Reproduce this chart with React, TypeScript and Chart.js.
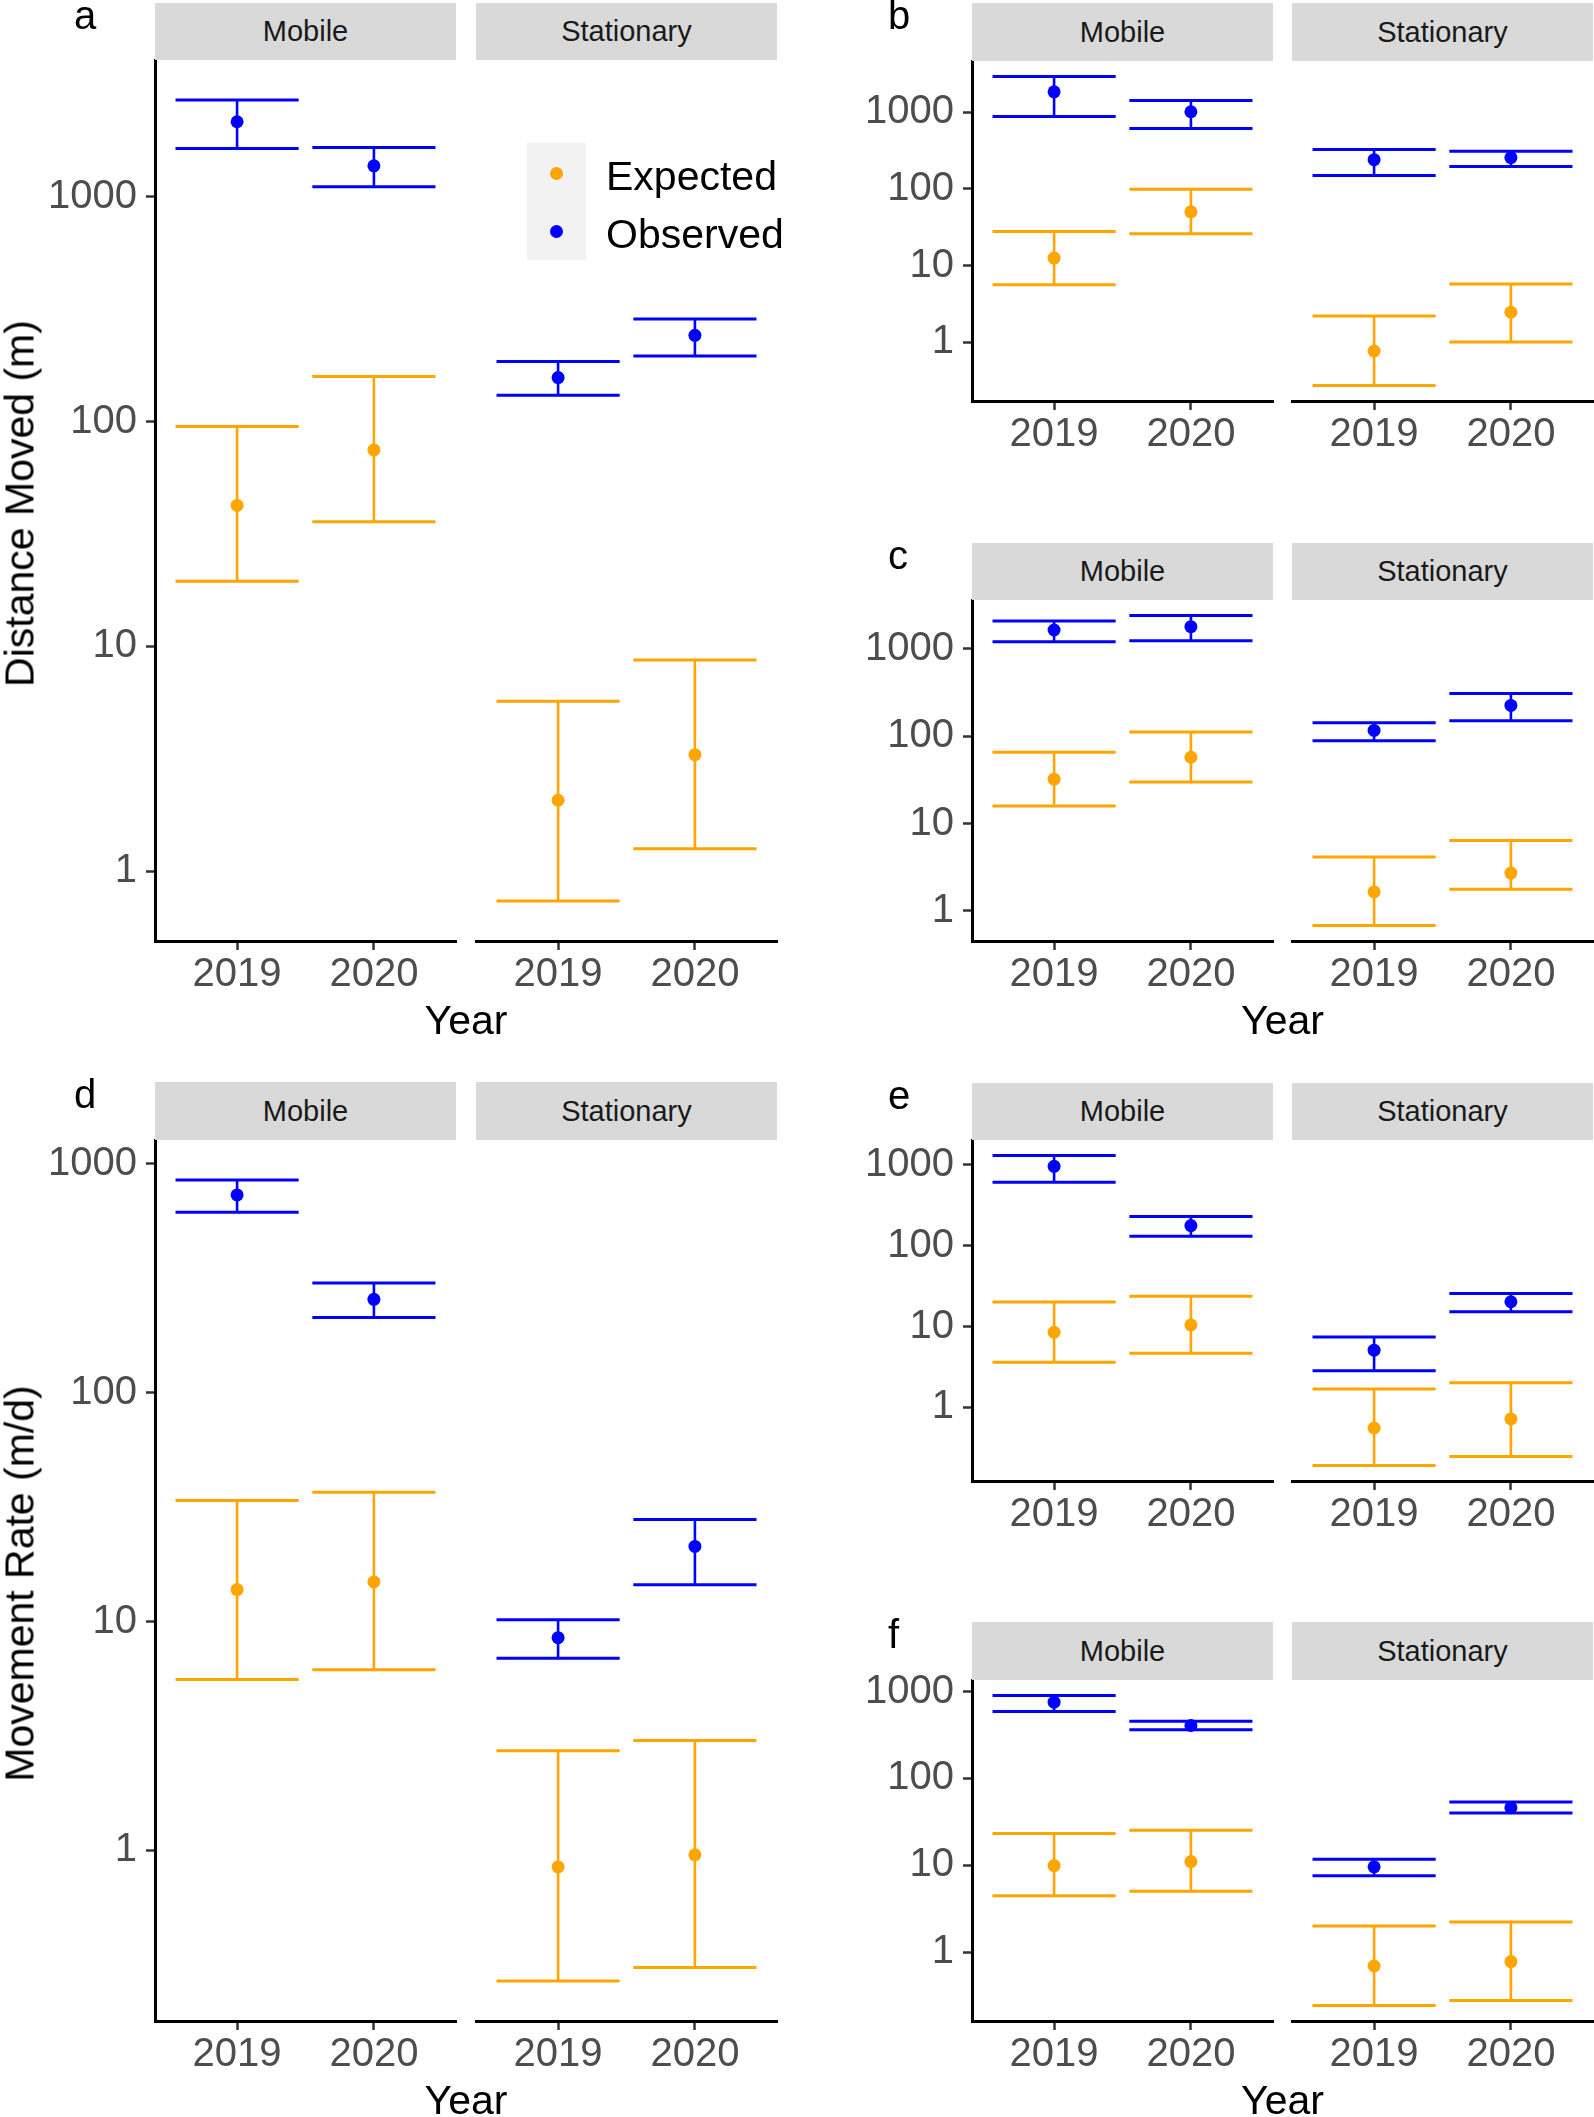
import React, { useEffect, useRef } from 'react';
import { Chart, registerables } from 'chart.js';

Chart.register(...registerables);

// ---------- DATA ----------
const years = ['2019', '2020'];
const facetNames = ['Mobile', 'Stationary'];
const seriesNames = ['Expected', 'Observed'];
const yTickValues = [1, 10, 100, 1000];

// Order in each array: Mobile 2019, Mobile 2020, Stationary 2019, Stationary 2020
// Panel a – Distance Moved (m)
const aExpMean = [42.4, 74.8, 2.07, 3.3];
const aExpLow = [19.5, 35.9, 0.738, 1.26];
const aExpHigh = [95, 158.5, 5.7, 8.7];
const aObsMean = [2155, 1373, 157, 242];
const aObsLow = [1640, 1108, 131, 196];
const aObsHigh = [2692, 1657, 185, 286];

// Panel b
const bExpMean = [12.5, 50.3, 0.764, 2.45];
const bExpLow = [5.59, 26.0, 0.27, 1.0];
const bExpHigh = [27.9, 99.3, 2.19, 5.72];
const bObsMean = [1857, 1020, 241, 257];
const bObsLow = [884, 617, 150, 196];
const bObsHigh = [2951, 1435, 328, 312];

// Panel c
const cExpMean = [32.1, 57.2, 1.65, 2.71];
const cExpLow = [15.9, 29.9, 0.682, 1.77];
const cExpHigh = [65.3, 111, 4.15, 6.41];
const cObsMean = [1631, 1782, 116, 224];
const cObsLow = [1195, 1227, 88.4, 150];
const cObsHigh = [2074, 2390, 141.6, 306];

// Panel d – Movement Rate (m/d)
const dExpMean = [13.8, 14.9, 0.847, 0.957];
const dExpLow = [5.58, 6.16, 0.269, 0.308];
const dExpHigh = [33.8, 36.7, 2.73, 3.02];
const dObsMean = [732, 256, 8.51, 21.3];
const dObsLow = [614, 213, 6.92, 14.5];
const dObsHigh = [850, 302, 10.2, 27.9];

// Panel e
const eExpMean = [8.51, 10.5, 0.556, 0.721];
const eExpLow = [3.61, 4.69, 0.191, 0.247];
const eExpHigh = [20.1, 23.7, 1.69, 2.02];
const eObsMean = [962, 178, 5.11, 20.3];
const eObsLow = [611, 131, 2.84, 15.3];
const eObsHigh = [1310, 231, 7.45, 25.6];

// Panel f
const fExpMean = [9.9, 11.0, 0.69, 0.775];
const fExpLow = [4.44, 5.02, 0.242, 0.276];
const fExpHigh = [23.1, 25.3, 1.99, 2.21];
const fObsMean = [754, 406, 9.57, 46.0];
const fObsLow = [589, 362, 7.54, 40.0];
const fObsHigh = [900, 456, 11.7, 53.4];

// ---------- STYLE / LAYOUT ----------
const FONT = '"Liberation Sans", Arial, Helvetica, sans-serif';
const SERIES_COLORS = ['#FFA500', '#0000FF'];
const TICK_COLOR = '#4D4D4D';
const STRIP_BG = '#D9D9D9';

const LEFT_COLS = [155, 476];
const RIGHT_COLS = [972, 1292];
const FACET_W = 301;

type Series = { mean: number[]; low: number[]; high: number[] };

const panels = [
  { id: 'a', cols: LEFT_COLS, plotTop: 60, plotBottom: 941, stripTop: 3, labelX: 74,
    exp: { mean: aExpMean, low: aExpLow, high: aExpHigh }, obs: { mean: aObsMean, low: aObsLow, high: aObsHigh },
    yTitle: 'Distance Moved (m)', xTitleBase: 1035, legend: true },
  { id: 'b', cols: RIGHT_COLS, plotTop: 61, plotBottom: 401, stripTop: 3, labelX: 888,
    exp: { mean: bExpMean, low: bExpLow, high: bExpHigh }, obs: { mean: bObsMean, low: bObsLow, high: bObsHigh } },
  { id: 'c', cols: RIGHT_COLS, plotTop: 600, plotBottom: 941, stripTop: 543, labelX: 888,
    exp: { mean: cExpMean, low: cExpLow, high: cExpHigh }, obs: { mean: cObsMean, low: cObsLow, high: cObsHigh },
    xTitleBase: 1035 },
  { id: 'd', cols: LEFT_COLS, plotTop: 1140, plotBottom: 2021, stripTop: 1082, labelX: 74,
    exp: { mean: dExpMean, low: dExpLow, high: dExpHigh }, obs: { mean: dObsMean, low: dObsLow, high: dObsHigh },
    yTitle: 'Movement Rate (m/d)', xTitleBase: 2115 },
  { id: 'e', cols: RIGHT_COLS, plotTop: 1140, plotBottom: 1481, stripTop: 1083, labelX: 888,
    exp: { mean: eExpMean, low: eExpLow, high: eExpHigh }, obs: { mean: eObsMean, low: eObsLow, high: eObsHigh } },
  { id: 'f', cols: RIGHT_COLS, plotTop: 1680, plotBottom: 2021, stripTop: 1622, labelX: 888,
    exp: { mean: fExpMean, low: fExpLow, high: fExpHigh }, obs: { mean: fObsMean, low: fObsLow, high: fObsHigh },
    xTitleBase: 2115 },
];

function yRange(exp: Series, obs: Series) {
  const all = [...exp.low, ...exp.high, ...obs.low, ...obs.high];
  const lo = Math.log10(Math.min(...all));
  const hi = Math.log10(Math.max(...all));
  const pad = (hi - lo) * 0.05;
  return { min: Math.pow(10, lo - pad), max: Math.pow(10, hi + pad) };
}

function slice(s: Series, f: number): Series {
  return { mean: s.mean.slice(f * 2, f * 2 + 2), low: s.low.slice(f * 2, f * 2 + 2), high: s.high.slice(f * 2, f * 2 + 2) };
}

function makeErrorBarPlugin(bars: { color: string; s: Series }[]) {
  return {
    id: 'errorBars',
    beforeDatasetsDraw(chart: any) {
      const { ctx } = chart;
      const x = chart.scales.x;
      const y = chart.scales.y;
      ctx.save();
      ctx.lineCap = 'butt';
      bars.forEach((b) => {
        ctx.strokeStyle = b.color;
        b.s.low.forEach((lo, i) => {
          const hi = b.s.high[i];
          const cx = x.getPixelForValue(i + 1);
          const x0 = x.getPixelForValue(i + 1 - 0.45);
          const x1 = x.getPixelForValue(i + 1 + 0.45);
          const yl = y.getPixelForValue(lo);
          const yh = y.getPixelForValue(hi);
          ctx.lineWidth = 2.6;
          ctx.beginPath();
          ctx.moveTo(cx, yl);
          ctx.lineTo(cx, yh);
          ctx.stroke();
          ctx.lineWidth = 3;
          ctx.beginPath();
          ctx.moveTo(x0, yl);
          ctx.lineTo(x1, yl);
          ctx.moveTo(x0, yh);
          ctx.lineTo(x1, yh);
          ctx.stroke();
        });
      });
      ctx.restore();
    },
  };
}

type FacetProps = {
  left: number; top: number; width: number; height: number;
  showY: boolean; yMin: number; yMax: number; exp: Series; obs: Series;
};

function Facet({ left, top, width, height, showY, yMin, yMax, exp, obs }: FacetProps) {
  const ref = useRef<HTMLCanvasElement>(null);
  const padL = showY ? 150 : 10;
  const padT = 40;
  const padR = 10;
  const padB = 60;
  const cw = width + padL + padR;
  const ch = height + padT + padB;

  useEffect(() => {
    if (!ref.current) return;
    const seriesList = [exp, obs];
    const yScale: any = {
      type: 'logarithmic',
      display: showY,
      min: yMin,
      max: yMax,
      bounds: 'data',
      afterBuildTicks: (s: any) => {
        s.ticks = yTickValues.filter((v) => v >= s.min && v <= s.max).map((v) => ({ value: v }));
      },
      ticks: {
        callback: (v: any) => String(v),
        font: { size: 40, family: FONT },
        color: TICK_COLOR,
        padding: 9,
        autoSkip: false,
      },
      grid: { display: true, drawOnChartArea: false, drawTicks: true, tickLength: 9, tickColor: '#333333', tickWidth: 2.5 },
      border: { display: true, color: '#000000', width: 3 },
    };
    if (showY) yScale.afterFit = (s: any) => { s.width = 150; };

    const chart = new Chart(ref.current, {
      type: 'scatter',
      data: {
        datasets: seriesList.map((s, k) => ({
          label: seriesNames[k],
          data: s.mean.map((v, i) => ({ x: i + 1, y: v })),
          backgroundColor: SERIES_COLORS[k],
          borderColor: SERIES_COLORS[k],
          pointRadius: 6.5,
          pointBorderWidth: 0,
          pointHoverRadius: 6.5,
        })),
      },
      options: {
        animation: false,
        responsive: false,
        maintainAspectRatio: false,
        devicePixelRatio: 1,
        events: [],
        layout: { padding: { left: showY ? 0 : 10, top: padT, right: padR, bottom: 0 }, autoPadding: false },
        plugins: { legend: { display: false }, tooltip: { enabled: false }, title: { display: false } },
        scales: {
          x: {
            type: 'linear',
            min: 0.4,
            max: 2.6,
            bounds: 'data',
            afterBuildTicks: (s: any) => {
              s.ticks = years.map((_, i) => ({ value: i + 1 }));
            },
            afterFit: (s: any) => { s.height = padB; },
            ticks: {
              callback: (v: any) => years[Math.round(Number(v)) - 1] ?? '',
              font: { size: 40, family: FONT },
              color: TICK_COLOR,
              padding: 1,
              maxRotation: 0,
              autoSkip: false,
            },
            grid: { display: true, drawOnChartArea: false, drawTicks: true, tickLength: 9, tickColor: '#333333', tickWidth: 2.5 },
            border: { display: true, color: '#000000', width: 3 },
          },
          y: yScale,
        },
      } as any,
      plugins: [makeErrorBarPlugin(seriesList.map((s, k) => ({ color: SERIES_COLORS[k], s })))],
    });
    return () => chart.destroy();
  }, []);

  return (
    <canvas
      ref={ref}
      width={cw}
      height={ch}
      style={{ position: 'absolute', left: left - padL, top: top - padT, width: cw, height: ch }}
    />
  );
}

function Txt({ x, base, size, children, align = 'left', color = '#000' }: any) {
  const w = 800;
  return (
    <div
      style={{
        position: 'absolute',
        left: align === 'center' ? x - w / 2 : x,
        width: align === 'center' ? w : undefined,
        top: base - 0.8465 * size,
        fontSize: size,
        lineHeight: `${size}px`,
        height: size,
        whiteSpace: 'nowrap',
        textAlign: align,
        color,
        fontFamily: FONT,
      }}
    >
      {children}
    </div>
  );
}

function VTitle({ cx, cy, size, children }: any) {
  const w = 800;
  return (
    <div
      style={{
        position: 'absolute',
        left: cx - w / 2,
        top: cy - size / 2,
        width: w,
        height: size,
        lineHeight: `${size}px`,
        fontSize: size,
        textAlign: 'center',
        whiteSpace: 'nowrap',
        transform: 'rotate(-90deg)',
        color: '#000',
        fontFamily: FONT,
      }}
    >
      {children}
    </div>
  );
}

export default function App() {
  return (
    <div style={{ position: 'absolute', left: 0, top: 0, width: 1594, height: 2117, background: '#FFFFFF', overflow: 'hidden', fontFamily: FONT }}>
      {panels.map((p) => {
        const r = yRange(p.exp, p.obs);
        const h = p.plotBottom - p.plotTop;
        return (
          <React.Fragment key={p.id}>
            {facetNames.map((fname, f) => (
              <React.Fragment key={fname}>
                <Facet
                  left={p.cols[f]}
                  top={p.plotTop}
                  width={FACET_W}
                  height={h}
                  showY={f === 0}
                  yMin={r.min}
                  yMax={r.max}
                  exp={slice(p.exp, f)}
                  obs={slice(p.obs, f)}
                />
                <div
                  style={{
                    position: 'absolute',
                    left: p.cols[f],
                    top: p.stripTop,
                    width: FACET_W,
                    height: p.plotTop - p.stripTop,
                    background: STRIP_BG,
                    color: '#1A1A1A',
                    fontSize: 29,
                    lineHeight: `${p.plotTop - p.stripTop}px`,
                    textAlign: 'center',
                    fontFamily: FONT,
                  }}
                >
                  {fname}
                </div>
              </React.Fragment>
            ))}
            <Txt x={p.labelX} base={p.stripTop + 26} size={40}>{p.id}</Txt>
            {p.xTitleBase ? (
              <Txt x={(p.cols[0] + p.cols[1] + FACET_W) / 2} base={p.xTitleBase} size={41} align="center">Year</Txt>
            ) : null}
            {p.yTitle ? (
              <VTitle cx={20} cy={(p.plotTop + p.plotBottom) / 2 + 3} size={41}>{p.yTitle}</VTitle>
            ) : null}
            {p.legend ? (
              <>
                <div style={{ position: 'absolute', left: 527, top: 143, width: 59, height: 117, background: '#F2F2F2' }} />
                {seriesNames.map((s, k) => (
                  <React.Fragment key={s}>
                    <div
                      style={{
                        position: 'absolute',
                        left: 556.5 - 6.5,
                        top: 173 + k * 58 - 6.5,
                        width: 13,
                        height: 13,
                        borderRadius: '50%',
                        background: SERIES_COLORS[k],
                      }}
                    />
                    <Txt x={606} base={191 + k * 58} size={41}>{s}</Txt>
                  </React.Fragment>
                ))}
              </>
            ) : null}
          </React.Fragment>
        );
      })}
    </div>
  );
}
